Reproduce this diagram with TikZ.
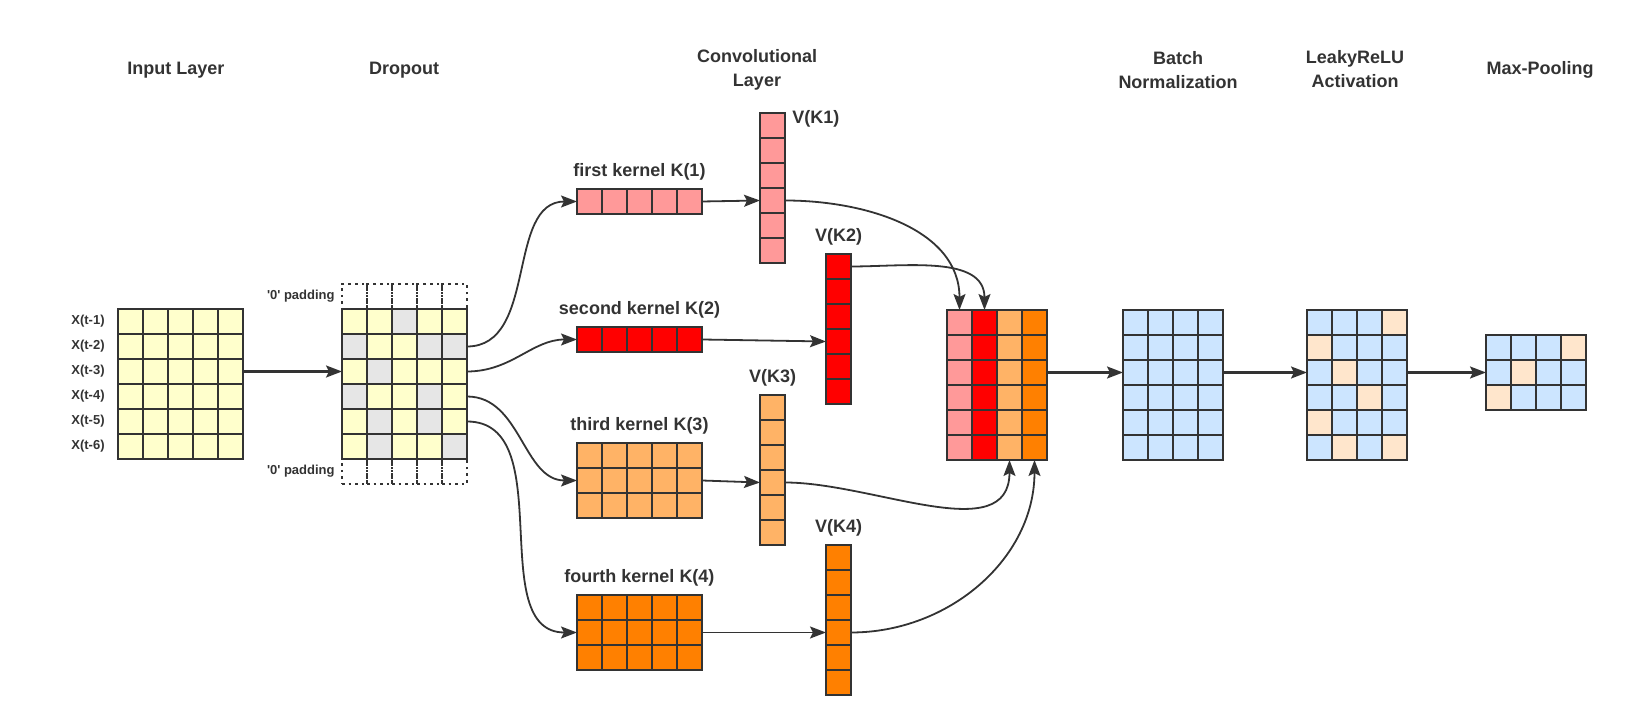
\documentclass[tikz,border=0pt]{standalone}
\usepackage{fontspec}
\setmainfont{Liberation Sans}
\usetikzlibrary{arrows.meta, positioning}

\definecolor{ink}{HTML}{333333}
\definecolor{cY}{HTML}{FFFFCC}
\definecolor{cG}{HTML}{E6E6E6}
\definecolor{cPink}{HTML}{FF9999}
\definecolor{cRed}{HTML}{FF0000}
\definecolor{cLight}{HTML}{FFB366}
\definecolor{cOrange}{HTML}{FF8000}
\definecolor{cB}{HTML}{CCE5FF}
\definecolor{cP}{HTML}{FFE6CC}

\begin{document}
\begin{tikzpicture}[x=0.5pt, y=-0.5pt,
    cell/.style={draw=ink, line width=1.3pt, minimum size=12.5pt, inner sep=0pt, outer sep=0pt},
    pad/.style={cell, dotted, line width=1.1pt},
    title/.style={font=\bfseries\fontsize{9}{12}\selectfont, text=ink, align=center},
    lbl/.style={font=\bfseries\fontsize{9}{11}\selectfont, text=ink, inner sep=1pt},
    small/.style={font=\bfseries\fontsize{6.5}{8}\selectfont, text=ink, inner sep=1pt},
    arr/.style={-{Stealth[length=8pt, width=6pt, inset=1.5pt]}, draw=ink, line width=1.1pt},
    link/.style={arr, line width=0.9pt}]

    \useasboundingbox (0,0) rectangle (1640,726);

    % titles
    \node[title] (t-in) at (176,70) {Input Layer};
    \node[title] (t-drop) at (404,70) {Dropout};
    \node[title] (t-conv) at (757,70) {Convolutional\\Layer};
    \node[title] (t-bn) at (1178,70) {Batch\\Normalization};
    \node[title] (t-lr) at (1355,69) {LeakyReLU\\Activation};
    \node[title] (t-mp) at (1540,70) {Max-Pooling};

    % input layer
    \foreach \r in {1,...,6}{
        \foreach \c in {1,...,5}
            \node[cell, fill=cY] (in-\r-\c) at ({105.5+25*\c}, {296.5+25*\r}) {};
        \node[small, left=5.5pt of in-\r-1] (x-\r) {X(t-\r)};
    }

    % dropout with padding
    \foreach \c in {1,...,5}{
        \node[pad] (padt-\c) at ({329.5+25*\c}, 296.5) {};
        \node[pad] (padb-\c) at ({329.5+25*\c}, 471.5) {};
    }
    \foreach \r/\pat in {1/{Y,Y,G,Y,Y}, 2/{G,Y,Y,G,G}, 3/{Y,G,Y,Y,Y},
                         4/{G,Y,Y,G,Y}, 5/{Y,G,Y,G,Y}, 6/{Y,G,Y,Y,G}}
        \foreach \f [count=\c] in \pat
            \node[cell, fill=c\f] (drop-\r-\c) at ({329.5+25*\c}, {296.5+25*\r}) {};
    \node[small, left=2.5pt of padt-1] (pad-top) {\textquotesingle0\textquotesingle\ padding};
    \node[small, left=2.5pt of padb-1] (pad-bot) {\textquotesingle0\textquotesingle\ padding};

    % kernels
    \foreach \k/\col/\y/\n/\name in {1/cPink/176.5/1/first, 2/cRed/314.5/1/second,
                                     3/cLight/430.5/3/third, 4/cOrange/582.5/3/fourth}{
        \foreach \r in {1,...,\n}
            \foreach \c in {1,...,5}
                \node[cell, fill=\col] (k\k-\r-\c) at ({564.5+25*\c}, {\y+25*\r}) {};
        \node[lbl, above=3pt of k\k-1-3] (kl-\k) {\name\ kernel K(\k)};
    }

    % feature vectors
    \foreach \k/\col/\x/\y in {1/cPink/772.5/100.5, 2/cRed/838.5/241.5,
                               3/cLight/772.5/382.5, 4/cOrange/838.5/532.5}
        \foreach \r in {1,...,6}
            \node[cell, fill=\col] (v\k-\r) at (\x, {\y+25*\r}) {};
    \node[lbl, right=2.5pt of v1-1, yshift=3.5pt] (vl-1) {V(K1)};
    \foreach \k in {2,3,4}
        \node[lbl, above=3pt of v\k-1] (vl-\k) {V(K\k)};

    % stacked maps
    \foreach \c/\col in {1/cPink, 2/cRed, 3/cLight, 4/cOrange}
        \foreach \r in {1,...,6}
            \node[cell, fill=\col] (cat-\r-\c) at ({934.5+25*\c}, {297.5+25*\r}) {};

    % batch normalization
    \foreach \r in {1,...,6}
        \foreach \c in {1,...,4}
            \node[cell, fill=cB] (bn-\r-\c) at ({1110.5+25*\c}, {297.5+25*\r}) {};

    % leaky relu
    \foreach \r/\pat in {1/{B,B,B,P}, 2/{P,B,B,B}, 3/{B,P,B,B},
                         4/{B,B,P,B}, 5/{P,B,B,B}, 6/{B,P,B,P}}
        \foreach \f [count=\c] in \pat
            \node[cell, fill=c\f] (lr-\r-\c) at ({1294.5+25*\c}, {297.5+25*\r}) {};

    % max pooling
    \foreach \r/\pat in {1/{B,B,B,P}, 2/{B,P,B,B}, 3/{P,B,B,B}}
        \foreach \f [count=\c] in \pat
            \node[cell, fill=c\f] (mp-\r-\c) at ({1473.5+25*\c}, {322.5+25*\r}) {};

    % connectors
    \draw[arr] (in-3-5.east) -- (drop-3-1.west);
    \draw[link] (drop-2-5.east) to[out=0, in=180] (k1-1-1.west);
    \draw[link] (drop-3-5.east) to[out=0, in=180] (k2-1-1.west);
    \draw[link] (drop-4-5.east) to[out=0, in=180] (k3-2-1.west);
    \draw[link] (drop-5-5.east) to[out=0, in=180] (k4-2-1.west);
    \draw[link] (k1-1-5.east) -- (v1-4.west);
    \draw[link] (k2-1-5.east) -- (v2-4.west);
    \draw[link] (k3-2-5.east) -- (v3-4.west);
    \draw[link] (k4-2-5.east) -- (v4-4.west);
    \draw[link] (v1-4.east) to[out=0, in=90] (cat-1-1.north);
    \draw[link] (v2-1.east) to[out=0, in=90] (cat-1-2.north);
    \draw[link] (v3-4.east) to[out=0, in=-90] (cat-6-3.south);
    \draw[link] (v4-4.east) to[out=0, in=-90] (cat-6-4.south);
    \draw[arr] (cat-3-4.east) -- (bn-3-1.west);
    \draw[arr] (bn-3-4.east) -- (lr-3-1.west);
    \draw[arr] (lr-3-4.east) -- (mp-2-1.west);
\end{tikzpicture}
\end{document}
